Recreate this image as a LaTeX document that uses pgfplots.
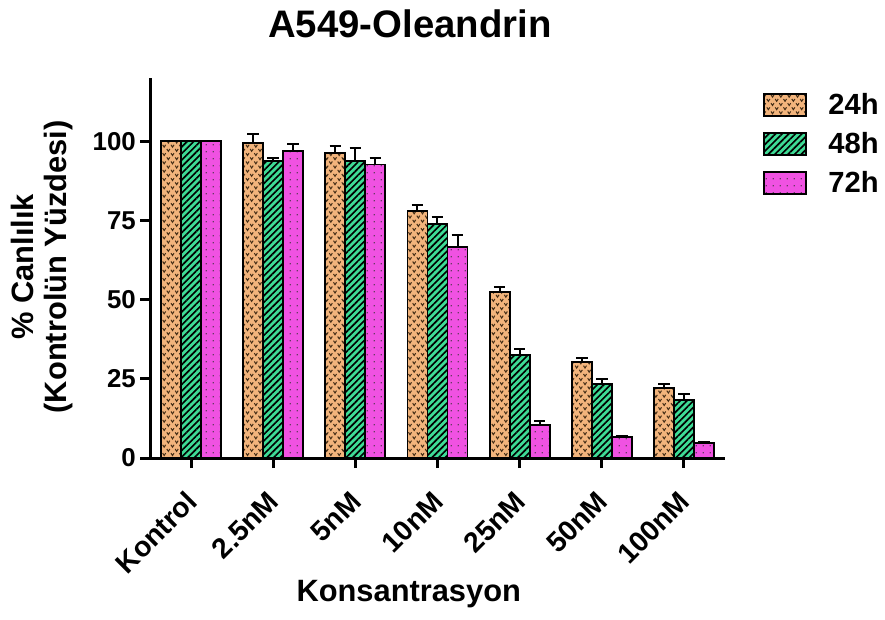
\documentclass[border=0pt]{standalone}
\usepackage{fontspec}
\setmainfont{Liberation Sans}
\usepackage{pgfplots}
\usepackage{pgfplotstable}
\pgfplotsset{compat=1.18}
\usetikzlibrary{patterns,patterns.meta,calc}

\definecolor{tanc}{RGB}{242,180,124}
\definecolor{greenc}{RGB}{62,220,150}
\definecolor{magc}{RGB}{240,82,226}

\pgfdeclarepatternformonly{vees}{\pgfqpoint{-0.5pt}{-0.5pt}}{\pgfqpoint{5.5pt}{5.5pt}}{\pgfqpoint{5pt}{5pt}}{%
  \pgfsetlinewidth{0.6pt}%
  \pgfpathmoveto{\pgfqpoint{0.1pt}{2.0pt}}\pgfpathlineto{\pgfqpoint{1.0pt}{0.6pt}}\pgfpathlineto{\pgfqpoint{1.9pt}{2.0pt}}%
  \pgfpathmoveto{\pgfqpoint{2.6pt}{4.5pt}}\pgfpathlineto{\pgfqpoint{3.5pt}{3.1pt}}\pgfpathlineto{\pgfqpoint{4.4pt}{4.5pt}}%
  \pgfusepath{stroke}%
}

\pgfplotstableread{
x  a     ea   b     eb   c     ec
0  100   0    100   0    100   0
1  99.4  2.8  93.8  1.0  97.0  2.0
2  96.4  2.0  93.8  4.0  92.7  2.0
3  78.0  2.0  74.0  2.0  66.5  4.0
4  52.5  1.5  32.4  2.0  10.4  1.4
5  30.2  1.4  23.3  1.7  6.6   0.5
6  22.0  1.4  18.4  1.8  4.7   0.3
}\datatable

\pgfplotsset{
  myerr/.style={
    error bars/y dir=plus, error bars/y explicit,
    error bars/error bar style={line width=1.2pt,black},
    error bars/error mark options={rotate=90,mark size=3.5pt,line width=1.2pt,black},
  }
}

\begin{document}
\begin{tikzpicture}
\begin{axis}[
  name=ax,
  scale only axis,
  width=345pt, height=228pt,
  ybar=0pt, bar width=12pt,
  xmin=-0.5, xmax=6.5,
  ymin=0, ymax=120,
  axis x line*=bottom, axis y line*=left,
  axis line style={line width=1.8pt,-},
  tick style={line width=1.8pt,black},
  major tick length=6pt,
  tick align=outside,
  xtick=data,
  xticklabels={Kontrol,2.5nM,5nM,10nM,25nM,50nM,100nM},
  ytick={0,25,50,75,100},
  /pgf/number format/assume math mode=true,
  tick label style={font=\bfseries\fontsize{15.5}{18}\selectfont},
  yticklabel style={xshift=1pt},
  xticklabel style={rotate=45,anchor=east,yshift=-12.4pt,xshift=-8.4pt,font=\bfseries\fontsize{17}{19}\selectfont},
  title={A549-Oleandrin},
  title style={at={(axis description cs:0.452,1)},anchor=base,yshift=18pt,font=\bfseries\fontsize{23}{26}\selectfont},
  xlabel={Konsantrasyon},
  xlabel style={at={(axis description cs:0.45,0)},anchor=base,yshift=-86pt,font=\bfseries\fontsize{18.5}{21}\selectfont},
  ylabel={\% Canlılık\\(Kontrolün Yüzdesi)},
  ylabel style={at={(axis description cs:-0.188,0.503)},anchor=center,align=center,font=\bfseries\fontsize{18.5}{20}\selectfont},
  legend style={at={(axis description cs:1.066,0.97)},anchor=north west,draw=none,fill=none,inner sep=0pt,
    font=\bfseries\fontsize{17.5}{20}\selectfont,row sep=5.3pt,
    nodes={inner xsep=2pt}},
  legend image code/.code={\draw[#1] (0pt,-6.5pt) rectangle (25pt,6.5pt);},
]
\addplot[myerr,draw=black,line width=1.1pt,fill=tanc,postaction={pattern=vees,pattern color=black!65!brown}]
  table[x=x,y=a,y error=ea]{\datatable};
\addplot[myerr,draw=black,line width=1.1pt,fill=greenc,postaction={pattern={Lines[angle=45,distance=2.8pt,line width=1.0pt]},pattern color=black}]
  table[x=x,y=b,y error=eb]{\datatable};
\addplot[myerr,draw=black,line width=1.1pt,fill=magc,postaction={pattern={Dots[radius=0.45pt,distance=4pt]},pattern color=black!80}]
  table[x=x,y=c,y error=ec]{\datatable};
\legend{\hspace*{11pt}24h,\hspace*{11pt}48h,\hspace*{11pt}72h}
\end{axis}
\path (ax.south west) ++(-90pt,-96.6pt) rectangle ($(ax.north east)+(96pt,46.8pt)$);
\end{tikzpicture}
\end{document}
